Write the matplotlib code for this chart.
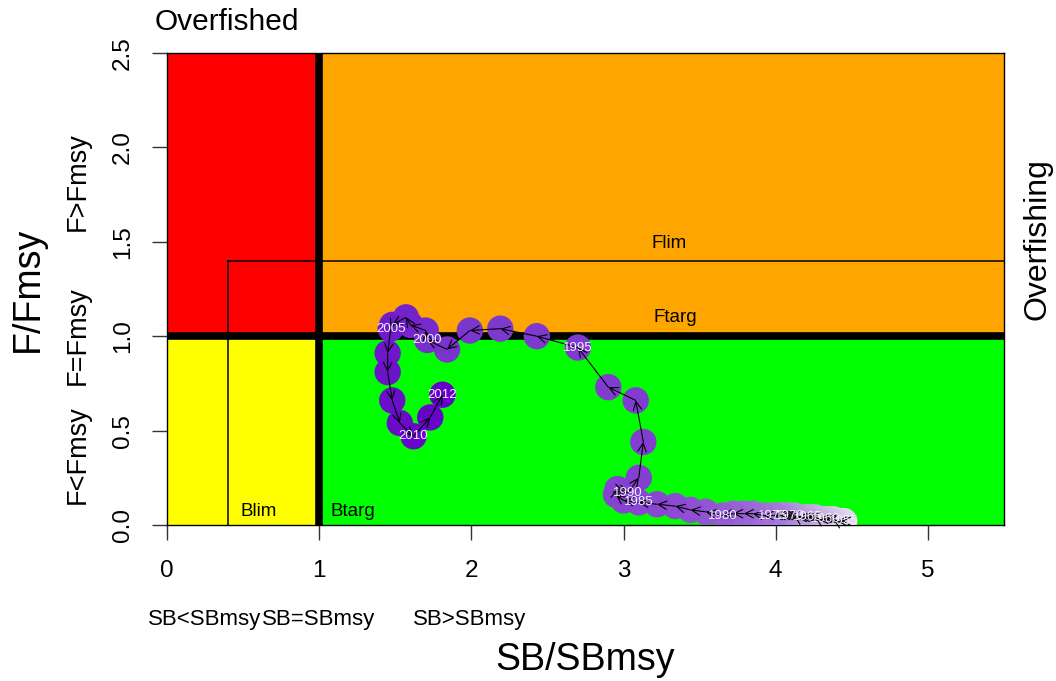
import numpy as np
import matplotlib
matplotlib.use("Agg")
import matplotlib.pyplot as plt
from matplotlib.colors import LinearSegmentedColormap

plt.rcParams['font.family'] = ['Liberation Sans', 'DejaVu Sans']

# ---- data ----
years = list(range(1955, 2013))
sb_ratio = [4.45, 4.43, 4.40, 4.38, 4.35, 4.33, 4.31, 4.28, 4.26, 4.23,
            4.21, 4.19, 4.16, 4.14, 4.12, 4.09, 4.07, 4.05, 4.03, 4.00,
            3.98, 3.92, 3.85, 3.79, 3.72, 3.65, 3.54, 3.44, 3.34, 3.22,
            3.10, 3.00, 2.95, 2.96, 3.00, 3.03, 3.10, 3.13, 3.08, 2.90,
            2.70, 2.43, 2.19, 1.99, 1.84, 1.71, 1.70, 1.60, 1.57, 1.48,
            1.47, 1.45, 1.45, 1.48, 1.53, 1.62, 1.73, 1.81]
f_ratio = [0.02, 0.02, 0.02, 0.03, 0.03, 0.03, 0.03, 0.03, 0.04, 0.04,
           0.04, 0.04, 0.04, 0.04, 0.05, 0.05, 0.05, 0.05, 0.05, 0.05,
           0.05, 0.05, 0.06, 0.06, 0.06, 0.05, 0.07, 0.08, 0.10, 0.11,
           0.12, 0.13, 0.16, 0.19, 0.18, 0.17, 0.25, 0.44, 0.66, 0.73,
           0.94, 1.00, 1.04, 1.03, 0.93, 0.98, 1.03, 1.06, 1.10, 1.06,
           1.04, 0.91, 0.81, 0.66, 0.54, 0.47, 0.57, 0.69]

x_ticks = [0, 1, 2, 3, 4, 5]
y_ticks = [0.0, 0.5, 1.0, 1.5, 2.0, 2.5]
y_tick_labels = ["0.0", "0.5", "1.0", "1.5", "2.0", "2.5"]
x_max, y_max = 5.5, 2.5
b_targ, f_targ = 1.0, 1.0
b_lim, f_lim = 0.4, 1.4

# ---- figure ----
fig = plt.figure(figsize=(10.56, 6.81), dpi=100)
ax = fig.add_axes([167/1056, 1-525/681, (1004-167)/1056, (525-53)/681])
ax.set_xlim(0, x_max)
ax.set_ylim(0, y_max)

# zones
ax.fill_between([0, b_targ], f_targ, y_max, color='#FF0000', lw=0, zorder=0)
ax.fill_between([b_targ, x_max], f_targ, y_max, color='#FFA500', lw=0, zorder=0)
ax.fill_between([0, b_targ], 0, f_targ, color='#FFFF00', lw=0, zorder=0)
ax.fill_between([b_targ, x_max], 0, f_targ, color='#00FF00', lw=0, zorder=0)

# reference lines
ax.plot([b_lim, x_max], [f_lim, f_lim], color='black', lw=1.1, zorder=1)
ax.plot([b_lim, b_lim], [0, f_lim], color='black', lw=1.1, zorder=1)
ax.axvline(b_targ, color='black', lw=5.5, zorder=1)
ax.axhline(f_targ, color='black', lw=5.5, zorder=1)

ax.text(3.3, 1.49, "Flim", fontsize=13.5, ha='center', va='center', zorder=2)
ax.text(3.34, 1.10, "Ftarg", fontsize=13.5, ha='center', va='center', zorder=2)
ax.text(0.6, 0.07, "Blim", fontsize=13.5, ha='center', va='center', zorder=2)
ax.text(1.22, 0.07, "Btarg", fontsize=13.5, ha='center', va='center', zorder=2)

# trajectory
cmap = LinearSegmentedColormap.from_list(
    "traj", ["#E4DAF0", "#B798DE", "#8A48D2", "#7C38CE", "#6400C8"])
n = len(years)
cols = [cmap(i / (n - 1)) for i in range(n)]
ax.scatter(sb_ratio, f_ratio, s=360, c=cols, edgecolors='none', zorder=3,
           clip_on=True)
for i in range(n - 1):
    ax.annotate("", xy=(sb_ratio[i+1], f_ratio[i+1]),
                xytext=(sb_ratio[i], f_ratio[i]),
                arrowprops=dict(arrowstyle='->', color='black', lw=0.8,
                                shrinkA=0, shrinkB=0, mutation_scale=15),
                zorder=4)
for i, yr in enumerate(years):
    if yr % 5 == 0 or i == n - 1:
        ax.text(sb_ratio[i], f_ratio[i], str(yr), color='#F4F0FF',
                fontsize=9.5, ha='center', va='center', zorder=5)

# axes styling
ax.set_xticks(x_ticks)
ax.set_xticklabels([str(v) for v in x_ticks])
ax.set_yticks(y_ticks)
ax.set_yticklabels(y_tick_labels, rotation=90, va='center')
ax.tick_params(axis='both', direction='out', length=11, width=1,
               color='#333333', labelsize=17.5)
ax.tick_params(axis='x', pad=14)
ax.tick_params(axis='y', pad=13)
for sp in ax.spines.values():
    sp.set_color('black')
    sp.set_linewidth(1)

# margin text
fig.text(28/1056, 1-289/681, "F/Fmsy", rotation=90, fontsize=27,
         ha='center', va='center')
fig.text(585/1056, 1-660/681, "SB/SBmsy", fontsize=27,
         ha='center', va='center')
fig.text(78/1056, 1-182/681, "F>Fmsy", rotation=90, fontsize=19.5,
         ha='center', va='center')
fig.text(78/1056, 1-336/681, "F=Fmsy", rotation=90, fontsize=19.5,
         ha='center', va='center')
fig.text(78/1056, 1-455/681, "F<Fmsy", rotation=90, fontsize=19.5,
         ha='center', va='center')
fig.text(205/1056, 1-620/681, "SB<SBmsy", fontsize=16, ha='center', va='center')
fig.text(319/1056, 1-620/681, "SB=SBmsy", fontsize=16, ha='center', va='center')
fig.text(470/1056, 1-620/681, "SB>SBmsy", fontsize=16, ha='center', va='center')
fig.text(155/1056, 1-22/681, "Overfished", fontsize=21.5, ha='left', va='center')
fig.text(1038/1056, 1-239/681, "Overfishing", rotation=90, fontsize=23,
         ha='center', va='center')

fig.savefig("out.png", dpi=100)
